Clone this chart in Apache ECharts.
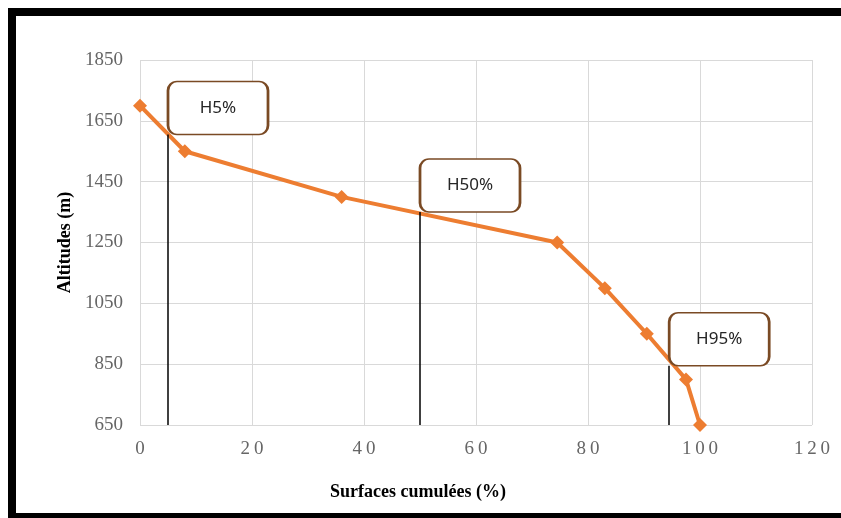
<!DOCTYPE html>
<html>
<head>
	<meta charset="utf-8" />
	<title>Courbe hypsométrique</title>
	<style>
		html, body { margin: 0; padding: 0; background: #fff; overflow: hidden; }
		#main { position: absolute; left: 0; top: 0; width: 841px; height: 518px; }
		#frame {
			position: absolute; left: 8px; top: 8px; width: 860px; height: 497px;
			border-left: 8px solid #000; border-top: 8px solid #000; border-bottom: 8px solid #000;
			pointer-events: none;
		}
	</style>
</head>
<body>
	<div id="main"></div>
	<div id="frame"></div>
	<script src="https://cdn.jsdelivr.net/npm/echarts@6/dist/echarts.min.js"></script>
	<script type="text/javascript">
		// surfaces cumulées (%) et altitudes (m)
		var surfaces = [0, 8, 36, 74.5, 83, 90.5, 97.5, 100];
		var altitudes = [1700, 1550, 1400, 1250, 1100, 950, 800, 650];
		// repères H5%, H50%, H95%
		var repereNoms = ['H5%', 'H50%', 'H95%'];
		var repereX = [5, 50, 94.5];
		var repereY = [1605, 1350, 845];
		var yTicks = [650, 850, 1050, 1250, 1450, 1650, 1850];

		var myChart = echarts.init(document.getElementById('main'));

		var points = [];
		for (var i = 0; i < surfaces.length; i++) {
			points.push([surfaces[i], altitudes[i]]);
		}
		var traits = [];
		var boites = [];
		for (var j = 0; j < repereNoms.length; j++) {
			traits.push([{ coord: [repereX[j], 650] }, { coord: [repereX[j], repereY[j]] }]);
			boites.push({ name: repereNoms[j], coord: [repereX[j], repereY[j]] });
		}

		// rectangle arrondi pour les étiquettes
		var boiteArrondie = 'path://M9,0H91A9,9,0,0,1,100,9V44A9,9,0,0,1,91,53H9A9,9,0,0,1,0,44V9A9,9,0,0,1,9,0Z';
		var gris = '#d9d9d9';
		var option = {
			animation: false,
			backgroundColor: '#fff',
			grid: { left: 140, right: 29, top: 60, bottom: 93 },
			xAxis: {
				type: 'value',
				min: 0,
				max: 120,
				interval: 20,
				name: 'Surfaces cumulées (%)',
				nameLocation: 'middle',
				nameGap: 58,
				nameTextStyle: {
					fontFamily: 'Liberation Serif', fontWeight: 'bold', fontSize: 18, color: '#000',
					padding: [0, 116, 0, 0]
				},
				axisLine: { show: false },
				axisTick: { show: false },
				splitLine: { lineStyle: { color: gris, width: 1 } },
				axisLabel: {
					margin: 15,
					color: '#666',
					fontFamily: 'Liberation Serif',
					fontSize: 19,
					formatter: function (v) { return String(v).split('').join('\u2009'); }
				}
			},
			yAxis: {
				type: 'value',
				min: 650,
				max: 1850,
				name: 'Altitudes (m)',
				nameLocation: 'middle',
				nameGap: 66,
				nameTextStyle: { fontFamily: 'Liberation Serif', fontWeight: 'bold', fontSize: 18, color: '#000' },
				axisLine: { show: false },
				axisTick: { show: false, customValues: yTicks },
				splitLine: { lineStyle: { color: gris, width: 1 } },
				axisLabel: {
					customValues: yTicks,
					margin: 17,
					color: '#666',
					fontFamily: 'Liberation Serif',
					fontSize: 19,
					formatter: function (v) { return String(v); }
				}
			},
			series: [{
				type: 'line',
				data: points,
				symbol: 'diamond',
				symbolSize: 14,
				lineStyle: { color: '#ED7D31', width: 4 },
				itemStyle: { color: '#ED7D31' },
				markLine: {
					silent: true,
					symbol: 'none',
					label: { show: false },
					lineStyle: { color: '#000', width: 1.5, type: 'solid' },
					data: traits
				},
				markPoint: {
					silent: true,
					symbol: boiteArrondie,
					symbolSize: [100, 53],
					symbolOffset: [50, -26.5],
					itemStyle: { color: '#fff', borderColor: '#7a4a24', borderWidth: 2 },
					label: {
						show: true,
						position: 'inside',
						formatter: '{b}',
						color: '#262626',
						fontFamily: 'Noto Sans',
						fontSize: 17
					},
					data: boites
				}
			}]
		};
		myChart.setOption(option);
	</script>
</body>
</html>
